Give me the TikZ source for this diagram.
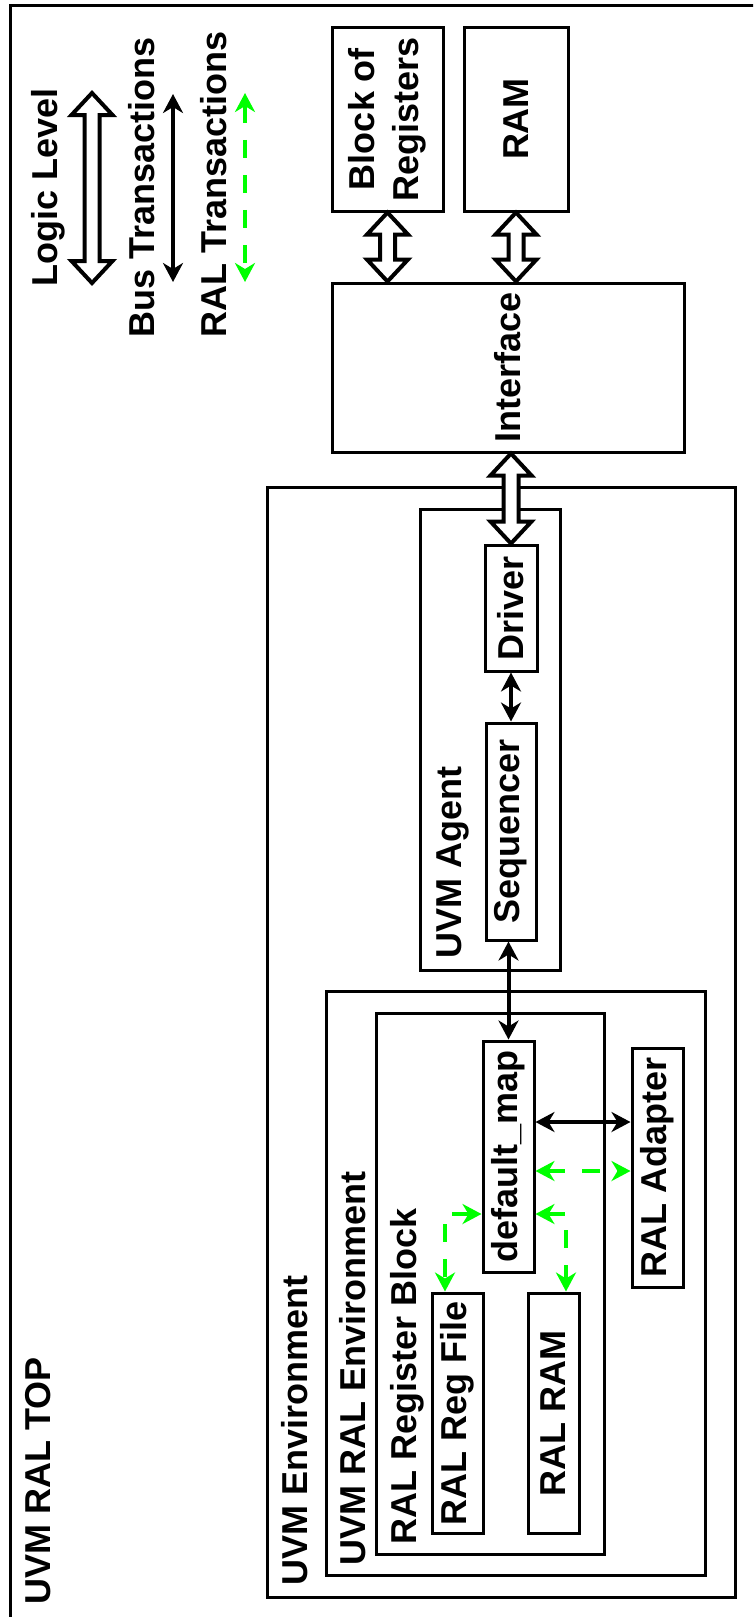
\documentclass[tikz,border=0pt]{standalone}
\usepackage{fontspec}
\setmainfont{Liberation Sans}
\usepackage{graphicx}
\usetikzlibrary{arrows.meta,calc}
\definecolor{ralgreen}{RGB}{0,255,0}
\newcommand{\dblarrow}[2]{%
  \draw[flexarr] let \p1=(#1), \p2=(#2) in
    (\x1,\y1) -- (\x1+20.5pt,\y1-22pt) -- (\x1+7.5pt,\y1-22pt) -- (\x1+7.5pt,\y2+22pt)
    -- (\x1+20.5pt,\y2+22pt) -- (\x1,\y2) -- (\x1-20.5pt,\y2+22pt) -- (\x1-7.5pt,\y2+22pt)
    -- (\x1-7.5pt,\y1-22pt) -- (\x1-20.5pt,\y1-22pt) -- cycle;}
\begin{document}
\begin{tikzpicture}[x=1pt,y=-1pt,
  font=\fontsize{36}{44}\selectfont\bfseries,
  box/.style={draw, line width=3pt, inner sep=0pt},
  lbl/.style={inner sep=0pt, rotate=90, anchor=base west},
  tipb/.tip={Stealth[length=19pt,width=20pt,inset=6pt]},
  busarr/.style={line width=4pt, tipb-tipb},
  ralarr/.style={draw=ralgreen, line width=4.5pt, dash pattern=on 18pt off 17pt,
    {Stealth[length=19pt,width=20pt,inset=6pt,fill=ralgreen]}-{Stealth[length=19pt,width=20pt,inset=6pt,fill=ralgreen]}},
  flexarr/.style={draw, fill=white, line width=4pt, line join=miter}]
\useasboundingbox (0,0) rectangle (753,1617);
\clip (0,0) rectangle (753,1617);
% outer frame (extends past the page on right and bottom)
\draw[line width=3.5pt] (10.5,1700) -- (10.5,5.5) -- (800,5.5);
\node[lbl] (toplbl) at (50,1605) {UVM RAL TOP};

% legend
\node[lbl] (lglbl) at (57,287) {Logic Level};
\node[lbl] (buslbl) at (154,338) {Bus Transactions};
\node[lbl] (rallbl) at (226,338) {RAL Transactions};
\coordinate (lgA) at (92,93);
\coordinate (lgB) at (92,283);
\coordinate (busA) at (173,94);
\coordinate (busB) at (173,282);
\coordinate (ralA) at (245,93);
\coordinate (ralB) at (245,282);
\dblarrow{lgA}{lgB}
\draw[busarr] (busA) -- (busB);
\draw[ralarr] (ralA) -- (ralB);

% DUT side
\node[box, minimum width=111pt, minimum height=184pt] (bor) at (387.5,119)
  {\rotatebox{90}{\begin{tabular}{@{}c@{}}Block of\\Registers\end{tabular}}};
\node[box, minimum width=104pt, minimum height=184pt] (ram) at (516,119)
  {\rotatebox{90}{RAM}};
\node[box, minimum width=352pt, minimum height=169pt] (iface) at (508,367.5)
  {\rotatebox{90}{Interface}};

% containers
\node[box, minimum width=468pt, minimum height=1110pt] (env) at (501,1042) {};
\node[lbl] (envlbl) at (307,1586) {UVM Environment};
\node[box, minimum width=140pt, minimum height=461pt] (agent) at (490,739.5) {};
\node[lbl] (agentlbl) at (461,959) {UVM Agent};
\node[box, minimum width=379pt, minimum height=584pt] (ralenv) at (515.5,1283) {};
\node[lbl] (ralenvlbl) at (365,1566) {UVM RAL Environment};
\node[box, minimum width=228pt, minimum height=541pt] (rblk) at (490,1283.5) {};
\node[lbl] (rblklbl) at (416,1545) {RAL Register Block};

% inner blocks
\node[box, minimum width=52pt, minimum height=126pt] (drv) at (511,608) {\rotatebox{90}{Driver}};
\node[box, minimum width=50pt, minimum height=217pt] (seq) at (511,831.5) {\rotatebox{90}{Sequencer}};
\node[box, minimum width=51pt, minimum height=231pt] (dm) at (508.5,1156.5) {\rotatebox{90}{default\_map}};
\node[box, minimum width=51pt, minimum height=239pt] (ad) at (657.5,1167.5) {\rotatebox{90}{RAL Adapter}};
\node[box, minimum width=51pt, minimum height=240pt] (rf) at (457.5,1413) {\rotatebox{90}{RAL Reg File}};
\node[box, minimum width=51pt, minimum height=240pt] (rr) at (553.5,1413) {\rotatebox{90}{RAL RAM}};

% connectors
\dblarrow{bor.south}{bor.south |- iface.north}
\dblarrow{ram.south}{ram.south |- iface.north}
\dblarrow{drv.north |- iface.south}{drv.north}
\draw[busarr] (drv.south) -- (drv.south |- seq.north);
\draw[busarr] (dm.north |- seq.south) -- (dm.north);
\coordinate (bk) at (0,1122);
\draw[busarr] (bk -| dm.east) -- (bk -| ad.west);
\coordinate (gh) at (0,1171);
\draw[ralarr] (gh -| dm.east) -- (gh -| ad.west);
\coordinate (gl) at (445,1214);
\draw[ralarr] (gl -| dm.west) -- (gl) -- (gl |- rf.north);
\coordinate (gr) at (566,1214);
\draw[ralarr] (gr -| dm.east) -- (gr) -- (gr |- rr.north);
\end{tikzpicture}
\end{document}
